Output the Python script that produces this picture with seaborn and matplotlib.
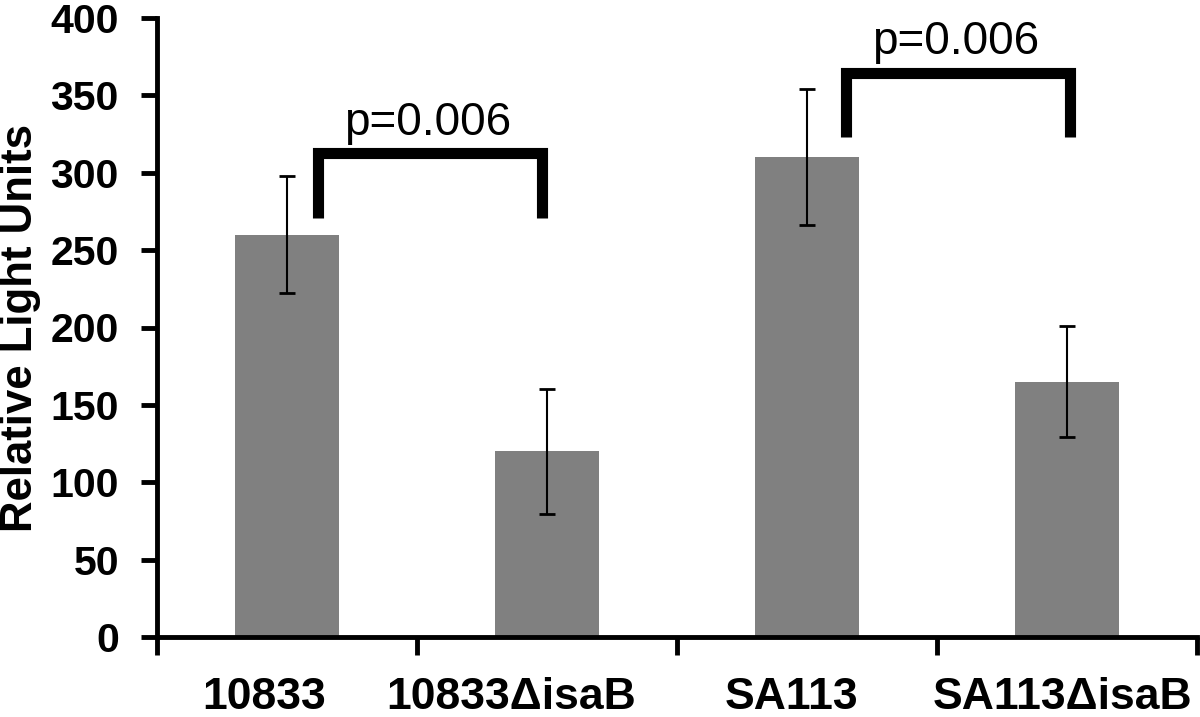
import numpy as np
import pandas as pd
import matplotlib
matplotlib.use("Agg")
from matplotlib import pyplot as plt
from matplotlib.transforms import ScaledTranslation
import seaborn as sns

strains = ["10833", "10833\u0394isaB", "SA113", "SA113\u0394isaB"]
rlu_mean = [260, 120, 310, 165]
rlu_err = [38, 40.5, 44, 36]

# significance brackets: (left bar, right bar), leg bottom / crossbar heights
bracket_pairs = [(0.12, 0.98), (2.15, 3.01)]
bracket_low = [271, 323]
bracket_high = [312.5, 364.5]
p_labels = ["p=0.006", "p=0.006"]

sns.set_style("white")
plt.rcParams['font.family'] = ['Liberation Sans', 'DejaVu Sans']
plt.rcParams['text.color'] = 'black'
plt.rcParams['xtick.color'] = 'black'
plt.rcParams['ytick.color'] = 'black'
plt.rcParams['axes.labelcolor'] = 'black'

df = pd.DataFrame({"strain": strains, "rlu": rlu_mean})

fig = plt.figure(figsize=(12, 7.17), dpi=100)
ax = fig.add_axes([157/1200, 80/717, 1040/1200, 619/717])

sns.barplot(data=df, x="strain", y="rlu", color="#808080", saturation=1,
            width=0.4, errorbar=None, linewidth=0, ax=ax)
ax.errorbar(np.arange(len(strains)), rlu_mean, yerr=rlu_err, fmt="none",
            ecolor="black", elinewidth=1.5, capsize=5.5, capthick=2)

# brackets with p-values
for (x1, x2), lo, hi, lab in zip(bracket_pairs, bracket_low, bracket_high, p_labels):
  ax.plot([x1, x1, x2, x2], [lo, hi, hi, lo], color="black", lw=8,
          solid_joinstyle="miter", solid_capstyle="butt", clip_on=False)
  ax.text((x1 + x2) / 2 - 0.01, hi + 12, lab, ha="center", va="baseline",
          fontsize=33, color="black", clip_on=False)

ax.set_xlim(-0.5, 3.5)
ax.set_ylim(0, 400)
ax.set_yticks(range(0, 401, 50))
ax.set_xticks([-0.5, 0.5, 1.5, 2.5, 3.5], minor=True)
ax.tick_params(axis="y", left=True, length=11.5, width=3.5, direction="out",
               pad=16, labelsize=29.5)
ax.tick_params(axis="x", which="major", bottom=True, length=0, pad=29,
               labelsize=32)
ax.tick_params(axis="x", which="minor", bottom=True, length=13, width=3.5,
               direction="out")
for lab in ax.get_yticklabels() + ax.get_xticklabels():
  lab.set_fontweight("bold")

# nudge x labels like the original layout
shifts = [-23, -36, -16, -4]
for lab, dx in zip(ax.get_xticklabels(), shifts):
  lab.set_transform(lab.get_transform() + ScaledTranslation(dx / 100, 0, fig.dpi_scale_trans))

ax.set_xlabel("")
ax.set_ylabel("Relative Light Units", fontsize=31.5, fontweight="bold")
ax.yaxis.set_label_coords(-0.112, 0.5)

for s in ["top", "right"]:
  ax.spines[s].set_visible(False)
for s in ["left", "bottom"]:
  ax.spines[s].set_linewidth(3.5)
  ax.spines[s].set_color("black")

fig.savefig("out.png", dpi=100)
